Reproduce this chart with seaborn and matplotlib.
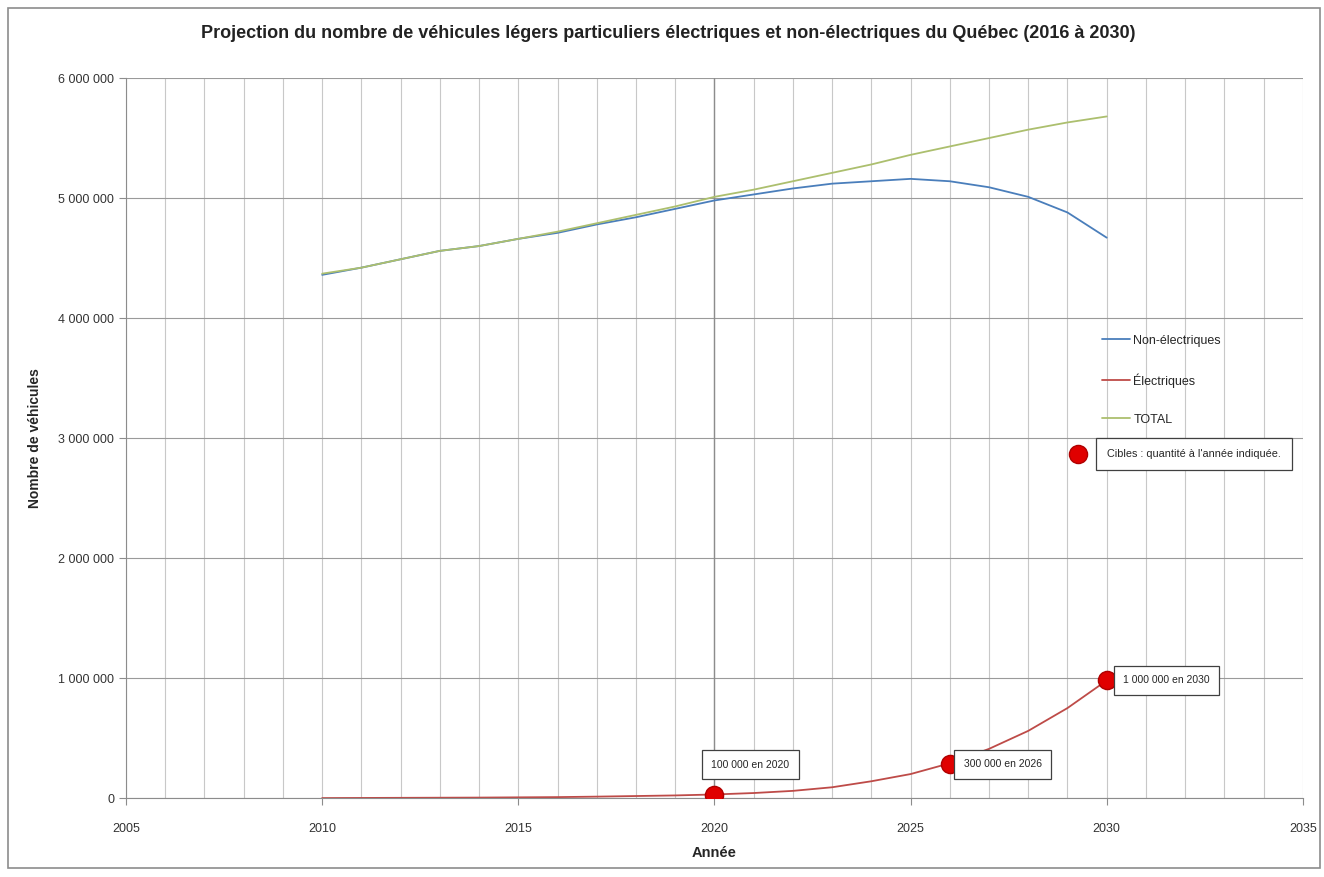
# Projection du parc de véhicules légers au Québec
import matplotlib
matplotlib.use("Agg")
import matplotlib.pyplot as plt
from matplotlib.patches import Rectangle
from matplotlib.ticker import MultipleLocator, FuncFormatter
import pandas as pd
import seaborn as sns

# Data
annees = list(range(2010, 2031))
non_electriques = [4.36e6, 4.42e6, 4.49e6, 4.56e6, 4.60e6, 4.66e6, 4.71e6, 4.78e6, 4.84e6, 4.91e6,
                   4.98e6, 5.03e6, 5.08e6, 5.12e6, 5.14e6, 5.16e6, 5.14e6, 5.09e6, 5.01e6, 4.88e6, 4.67e6]
electriques = [0, 1000, 2000, 3000, 4000, 6000, 8000, 12000, 17000, 22000,
               30000, 42000, 60000, 90000, 140000, 200000, 290000, 410000, 560000, 750000, 980000]
total = [4.37e6, 4.42e6, 4.49e6, 4.56e6, 4.60e6, 4.66e6, 4.72e6, 4.79e6, 4.86e6, 4.93e6,
         5.01e6, 5.07e6, 5.14e6, 5.21e6, 5.28e6, 5.36e6, 5.43e6, 5.50e6, 5.57e6, 5.63e6, 5.68e6]

cible_annees = [2020, 2026, 2030]
cible_valeurs = [25000, 280000, 980000]
cible_textes = ["100 000 en 2020", "300 000 en 2026", "1 000 000 en 2030"]

series = ["Non-électriques", "Électriques", "TOTAL"]
couleurs = ["#4a7ebb", "#be4b48", "#acbf6e"]

df = pd.DataFrame({
    "Année": annees * 3,
    "valeur": non_electriques + electriques + total,
    "serie": [series[0]] * 21 + [series[1]] * 21 + [series[2]] * 21,
})

sns.set_style("white")
plt.rcParams["font.family"] = ["Liberation Sans", "DejaVu Sans"]

fig = plt.figure(figsize=(13.24, 8.77), dpi=100)
ax = fig.add_axes([0.0952, 0.090, 0.8888, 0.821])

sns.lineplot(data=df, x="Année", y="valeur", hue="serie", palette=couleurs,
             hue_order=series, linewidth=1.3, ax=ax)

ax.axvline(2020, color="#8c8c8c", lw=1.0, zorder=1)

sns.scatterplot(x=cible_annees, y=cible_valeurs, color="#e00000", edgecolor="#b00000",
                s=170, zorder=5, legend=False, ax=ax)

# target labels
offsets = [(26, 22, "center"), (10, 0, "left"), (12, 0, "left")]
for xa, ya, txt, (dx, dy, ha) in zip(cible_annees, cible_valeurs, cible_textes, offsets):
    ax.annotate(txt, (xa, ya), xytext=(dx, dy),
                textcoords="offset points", ha=ha, va="center", fontsize=7.5,
                bbox=dict(boxstyle="square,pad=0.9", fc="white", ec="#404040", lw=0.9),
                zorder=6)

# key for the red dots
ax.scatter([0.8089], [0.4775], transform=ax.transAxes, s=170, color="#e00000",
           edgecolor="#b00000", zorder=6, clip_on=False)
ax.text(0.8337, 0.4775, "Cibles : quantité à l'année indiquée.", transform=ax.transAxes,
        ha="left", va="center", fontsize=7.8,
        bbox=dict(boxstyle="square,pad=1.0", fc="white", ec="#404040", lw=0.9))

ax.set_xlim(2005, 2035)
ax.set_ylim(0, 6e6)
ax.xaxis.set_major_locator(MultipleLocator(5))
ax.xaxis.set_minor_locator(MultipleLocator(1))
ax.yaxis.set_major_locator(MultipleLocator(1e6))
ax.yaxis.set_major_formatter(FuncFormatter(lambda v, p: f"{v:,.0f}".replace(",", " ")))

ax.grid(which="both", axis="x", color="#c8c8c8", lw=0.8)
ax.grid(which="major", axis="y", color="#9a9a9a", lw=0.8)
for s in ["top", "right"]:
    ax.spines[s].set_visible(False)
for s in ["left", "bottom"]:
    ax.spines[s].set_color("#8c8c8c")
ax.tick_params(axis="both", which="major", direction="out", length=5, color="#8c8c8c",
               labelsize=9, labelcolor="#333333", left=True, bottom=True)
ax.tick_params(axis="x", which="major", pad=13)

ax.set_xlabel("Année", fontsize=10.5, fontweight="bold", labelpad=8)
ax.set_ylabel("Nombre de véhicules", fontsize=10, fontweight="bold", labelpad=12)
fig.text(0.505, 1 - 33 / 877, "Projection du nombre de véhicules légers particuliers électriques et "
         "non-électriques du Québec (2016 à 2030)", fontsize=13, fontweight="bold",
         ha="center", va="center", color="#222222")

leg = ax.legend(loc="upper left", bbox_to_anchor=(0.82, 0.659), frameon=False,
                fontsize=9, labelspacing=2.1, handlelength=2.2, handletextpad=0.3)
for h in leg.get_lines():
    h.set_linewidth(1.3)

fig.add_artist(Rectangle((8 / 1324, 9 / 877), 1312 / 1324, 860 / 877, transform=fig.transFigure,
                         fill=False, ec="#8c8c8c", lw=1.2))

fig.savefig("out.png", dpi=100)
